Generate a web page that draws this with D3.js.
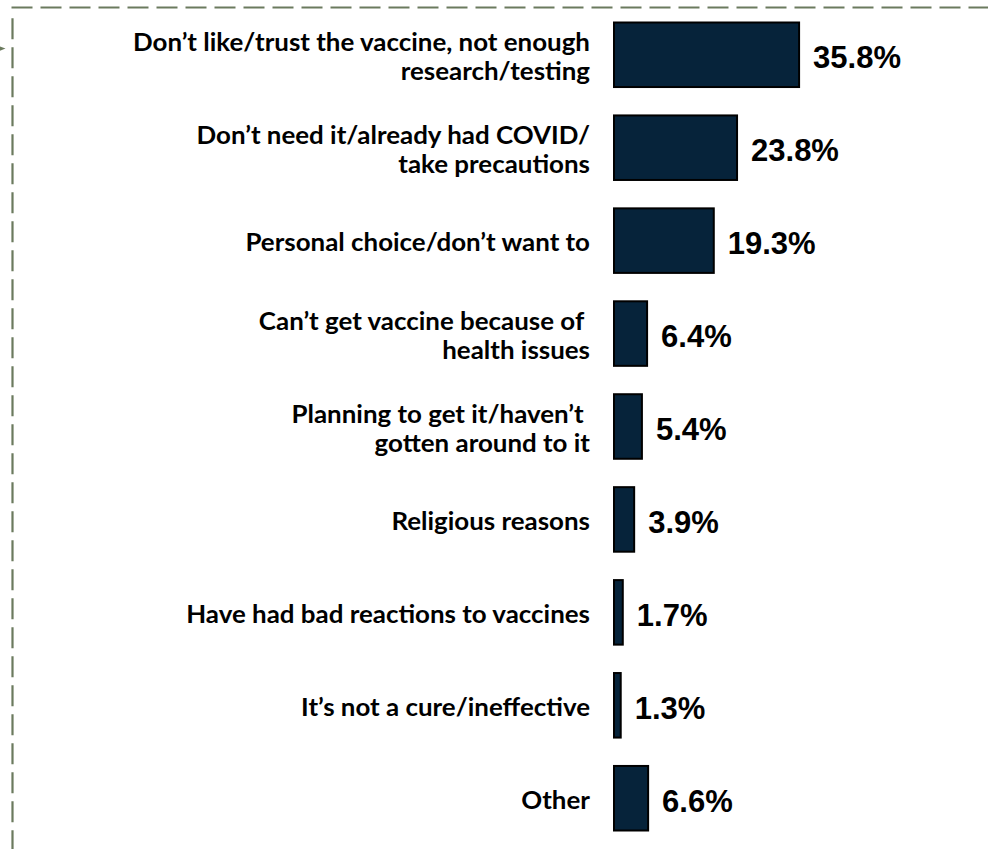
<!DOCTYPE html>
<html>
<head>
<meta charset="utf-8">
<script src="https://cdn.jsdelivr.net/npm/d3@7"></script>
<style>
  html, body { margin: 0; padding: 0; background: #ffffff; }
  svg { display: block; }
</style>
</head>
<body>
<svg id="chart" width="988" height="849"></svg>
<script>
// Reasons given for not getting the vaccine (share of respondents, %)
const categories = [
  ["Don’t like/trust the vaccine, not enough", "research/testing"],
  ["Don’t need it/already had COVID/", "take precautions"],
  ["Personal choice/don’t want to"],
  ["Can’t get vaccine because of ", "health issues"],
  ["Planning to get it/haven’t ", "gotten around to it"],
  ["Religious reasons"],
  ["Have had bad reactions to vaccines"],
  ["It’s not a cure/ineffective"],
  ["Other"]
];
const values = [35.8, 23.8, 19.3, 6.4, 5.4, 3.9, 1.7, 1.3, 6.6];
const valueLabels = ["35.8%", "23.8%", "19.3%", "6.4%", "5.4%", "3.9%", "1.7%", "1.3%", "6.6%"];

const svg = d3.select("#chart");
const ids = d3.range(values.length);

const frameColor = "#6b7a5e";
const barColor = "#06233a";

// dashed frame (top and left edges run off the page)
svg.append("line")
  .attr("x1", 11.5).attr("x2", 1000)
  .attr("y1", 7.5).attr("y2", 7.5)
  .attr("stroke", frameColor).attr("stroke-width", 2.2)
  .attr("stroke-dasharray", "21 8");
svg.append("line")
  .attr("x1", 12.5).attr("x2", 12.5)
  .attr("y1", 18.3).attr("y2", 860)
  .attr("stroke", frameColor).attr("stroke-width", 2.2)
  .attr("stroke-dasharray", "21 8");
// connector arrow tip entering from the left
svg.append("path")
  .attr("d", "M0,46.5 L5.5,48.6 L0,50.7 Z")
  .attr("fill", frameColor);

const y = d3.scaleBand()
  .domain(ids)
  .range([21.5, 831.5])
  .paddingInner(0.284)
  .paddingOuter(0);

const x = d3.scaleLinear()
  .domain([0, 40])
  .range([614, 614 + 206.8]);

// bars
svg.append("g").selectAll("rect")
  .data(ids)
  .join("rect")
  .attr("x", x(0))
  .attr("y", i => y(i) + 1)
  .attr("width", i => x(values[i]) - x(0))
  .attr("height", y.bandwidth() - 2)
  .attr("fill", barColor)
  .attr("stroke", "#000000")
  .attr("stroke-width", 2);

// value labels
svg.append("g").selectAll("text")
  .data(ids)
  .join("text")
  .attr("x", i => x(values[i]) + 14)
  .attr("y", i => y(i) + y.bandwidth() / 2 + 13.5)
  .attr("font-family", "'Liberation Sans', Arial, sans-serif")
  .attr("font-weight", "bold")
  .attr("font-size", 31)
  .attr("fill", "#000000")
  .text(i => valueLabels[i]);

// category labels (right aligned, one or two lines)
const lineGap = 29;
const labelG = svg.append("g")
  .attr("font-family", "Lato, 'Open Sans', sans-serif")
  .attr("font-weight", "bold")
  .attr("font-size", 24)
  .attr("fill", "#000000")
  .attr("text-anchor", "end");

const labelTexts = [];
ids.forEach(i => {
  const lines = categories[i];
  const cy = y(i) + y.bandwidth() / 2;
  lines.forEach((ln, j) => {
    const t = labelG.append("text")
      .attr("x", 590)
      .attr("y", cy + (j - (lines.length - 1) / 2) * lineGap + 1)
      .attr("dominant-baseline", "central")
      .style("white-space", "pre")
      .text(ln);
    labelTexts.push(t);
  });
});

// condense the label face to the narrower set width of the longest line
const refWidth = labelTexts[0].node().getComputedTextLength();
const squeeze = 457 / refWidth;
labelTexts.forEach(t => {
  const w = t.node().getComputedTextLength();
  t.attr("textLength", w * squeeze).attr("lengthAdjust", "spacingAndGlyphs");
});
</script>
</body>
</html>
